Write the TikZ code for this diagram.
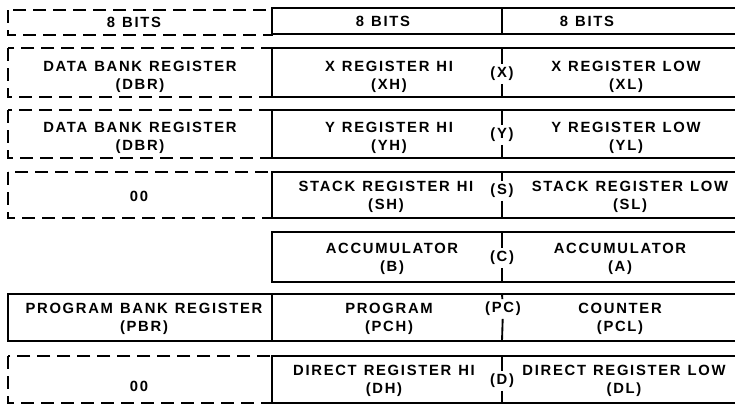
\documentclass[tikz,border=0pt]{standalone}
\usepackage{fontspec}
\newfontfamily\regfont{Liberation Sans}[LetterSpace=11.5, WordSpace=1.2]
\tikzset{
    regmap/.style={x=0.75pt, y=-0.75pt, font=\regfont\bfseries\fontsize{11.1}{13}\selectfont},
    regbox/.style={line width=1.4pt},
    bankbox/.style={regbox, dash pattern=on 10pt off 5pt},
    hdrbox/.style={line width=0.9pt},
    regtext/.style={align=center, inner sep=0pt},
    % label sitting in the gap of the hi/low divider
    sepmark/.style={inner sep=2pt},
}

\begin{document}
\begin{tikzpicture}[regmap]
    \useasboundingbox (0,0) rectangle (735,404);

    % header
    \draw[bankbox] (8,10) rectangle (272,35);
    \draw[hdrbox] (272,8) rectangle (752,34) (502,8) -- (502,34);
    \node[regtext] (bitsb) at (134,22) {8 BITS};
    \node[regtext] (bitsh) at (383,21) {8 BITS};
    \node[regtext] (bitsl) at (587,21) {8 BITS};

    % X
    \draw[bankbox] (8,48) rectangle (272,97);
    \draw[regbox] (272,48) rectangle (752,97);
    \node[regtext] (dbrx) at (140,77) {DATA BANK REGISTER\\(DBR)};
    \node[regtext] (xh)   at (389,77) {X REGISTER HI\\(XH)};
    \node[regtext] (xl)   at (626,77) {X REGISTER LOW\\(XL)};
    \node[sepmark] (xsep) at (502,74) {(X)};
    \draw[regbox] (502,48) -- (xsep) -- (502,97);

    % Y
    \draw[bankbox] (8,110) rectangle (272,158);
    \draw[regbox] (272,110) rectangle (752,158);
    \node[regtext] (dbry) at (140,138) {DATA BANK REGISTER\\(DBR)};
    \node[regtext] (yh)   at (389,138) {Y REGISTER HI\\(YH)};
    \node[regtext] (yl)   at (626,138) {Y REGISTER LOW\\(YL)};
    \node[sepmark] (ysep) at (502,135) {(Y)};
    \draw[regbox] (502,110) -- (ysep) -- (502,158);

    % S
    \draw[bankbox] (8,172) rectangle (272,218);
    \draw[regbox] (272,172) rectangle (752,218);
    \node[regtext] (zeros) at (139,196) {00};
    \node[regtext] (sh)    at (386,197) {STACK REGISTER HI\\(SH)};
    \node[regtext] (sl)    at (630,197) {STACK REGISTER LOW\\(SL)};
    \node[sepmark] (ssep)  at (502,191) {(S)};
    \draw[regbox] (502,172) -- (ssep) -- (502,218);

    % C
    \draw[regbox] (272,232) rectangle (752,282);
    \node[regtext] (acb)  at (392,259) {ACCUMULATOR\\(B)};
    \node[regtext] (aca)  at (620,259) {ACCUMULATOR\\(A)};
    \node[sepmark] (csep) at (502,258) {(C)};
    \draw[regbox] (502,232) -- (csep) -- (502,282);

    % PC
    \draw[regbox] (8,294) rectangle (272,341);
    \draw[regbox] (272,294) rectangle (752,341);
    \node[regtext] (pbr)   at (144,319) {PROGRAM BANK REGISTER\\(PBR)};
    \node[regtext] (pch)   at (389,319) {PROGRAM\\(PCH)};
    \node[regtext] (pcl)   at (620,319) {COUNTER\\(PCL)};
    \node[sepmark] (pcsep) at (503,309) {(PC)};
    \draw[regbox] (502,294) -- (pcsep) -- (502,341);

    % D
    \draw[bankbox] (8,356) rectangle (272,403);
    \draw[regbox] (272,356) rectangle (752,403);
    \node[regtext] (zerod) at (139,386) {00};
    \node[regtext] (dh)    at (384,381) {DIRECT REGISTER HI\\(DH)};
    \node[regtext] (dl)    at (624,381) {DIRECT REGISTER LOW\\(DL)};
    \node[sepmark] (dsep)  at (502,381) {(D)};
    \draw[regbox] (502,356) -- (dsep) -- (502,403);
\end{tikzpicture}
\end{document}
